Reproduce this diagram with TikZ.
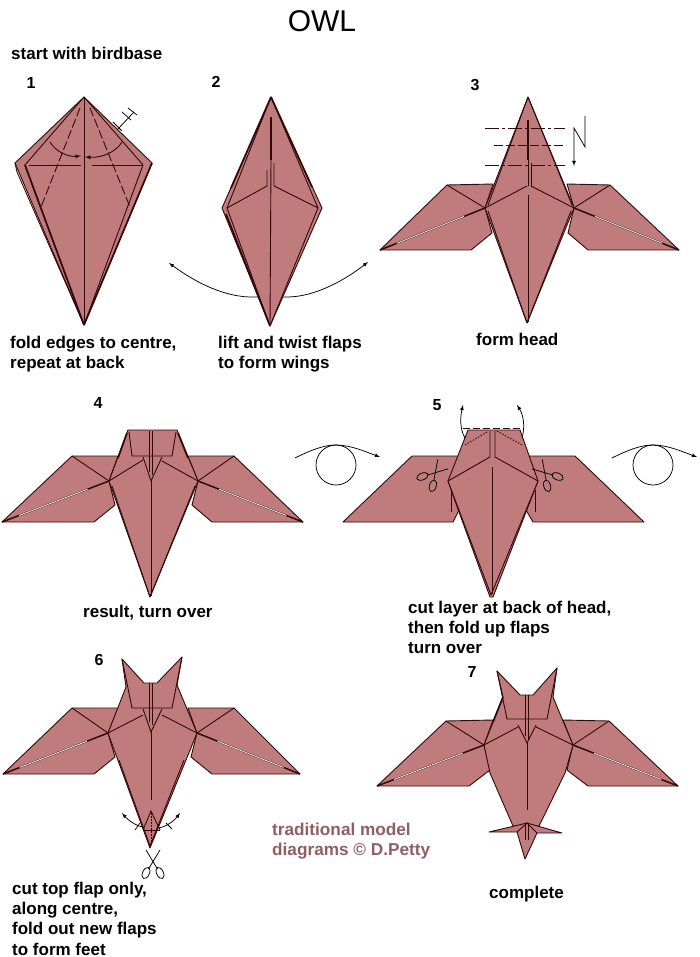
\documentclass[tikz,border=0pt]{standalone}
\usepackage{fontspec}
\setmainfont{Liberation Sans}
\usetikzlibrary{calc}
\definecolor{paperrose}{HTML}{C07C7C}
\definecolor{foldline}{HTML}{320808}
\definecolor{creditcol}{HTML}{8E5F63}
\tikzset{
  paper/.style={fill=paperrose, draw=foldline, line width=0.9pt, line join=round},
  crease/.style={draw=foldline, line width=0.9pt},
  heavy/.style={draw=foldline, line width=1.7pt},
  sliver/.style={draw=white, line width=0.8pt},
  valley/.style={crease, dash pattern=on 9pt off 3pt},
  chain/.style={crease, dash pattern=on 14pt off 3pt on 3pt off 3pt},
  hint/.style={draw=black, line width=0.75pt},
  label/.style={font=\fontsize{17}{20.4}\selectfont\bfseries, align=left, inner sep=0pt, anchor=north west},
  stepnum/.style={font=\fontsize{16}{18}\selectfont\bfseries, inner sep=0pt},
  scissors/.pic={
    \draw[hint] (-7,-12) -- (4.5,7);
    \draw[hint] (7,-12) -- (-4.5,7);
    \draw[hint, rotate around={25:(7,11)}] (7,11) ellipse (3.4 and 6);
    \draw[hint, rotate around={-25:(-7,11)}] (-7,11) ellipse (3.4 and 6);
  },
  turnover/.pic={
    \draw[hint] (0,0) circle (20);
    \draw[hint, -latex] (-41,-7) .. controls (-25,-15) and (-12,-20) .. (0,-20)
      .. controls (15,-20) and (30,-13) .. (44,-8);
  }
}
% wings of steps 3, 4, 6 and 7 share one layout
\newcommand{\drawwings}{
  \filldraw[paper] (WL) -- (TL) -- (HL) -- (SL) -- (IL) -- (BL) -- cycle;
  \filldraw[paper] (WR) -- (TR) -- (HR) -- (SR) -- (IR) -- (BR) -- cycle;
  \draw[draw=foldline, line width=1.5pt] (WL) -- (SL);
  \draw[draw=foldline, line width=1.5pt] (WR) -- (SR);
  \draw[sliver] ($(WL)!0.16!(SL)$) -- ($(WL)!0.8!(SL)$);
  \draw[sliver] ($(WR)!0.16!(SR)$) -- ($(WR)!0.8!(SR)$);
}
\begin{document}
\begin{tikzpicture}[x=1pt,y=-1pt]
  \useasboundingbox[fill=white] (0,0) rectangle (700,957);

  \node[inner sep=0pt, font=\fontsize{30}{32}\selectfont] (title) at (322,21) {OWL};
  \node[label] (start) at (11,46.5) {start with birdbase};

  % step 1
  \node[stepnum] (n1) at (31,83) {1};
  \coordinate (A1) at (84,97);
  \coordinate (L1) at (15,163);
  \coordinate (R1) at (152,163);
  \coordinate (B1) at (84,325);
  \filldraw[paper] (A1) -- (R1) -- (B1) -- (L1) -- cycle;
  \draw[crease] (A1) -- (25,165) -- (B1);
  \draw[heavy] (25,165) -- (B1);
  \draw[crease] (15,163) -- (17,172) -- (B1);
  \draw[crease] (A1) -- (143,165) -- (B1);
  \draw[heavy] (R1) -- (B1);
  \draw[crease] (A1) -- (B1);
  \draw[crease] (29,165) -- (81,165);
  \draw[crease] (92,165) -- (143,165);
  \draw[valley] (80,108) -- (41,207);
  \draw[valley] (90,108) -- (130,207);
  \draw[crease, -latex] (50,142) .. controls (56,152) and (68,157) .. (81,156);
  \draw[crease, -latex] (122,142) .. controls (116,152) and (102,158) .. (85,157);
  \draw[hint] (117,130) -- (134,112);
  \draw[hint] (113,122) -- (122,131);
  \draw[hint] (122,112) -- (131,120);
  \draw[hint] (128,108) -- (137,115);
  \node[label] (text1) at (10,335.5) {fold edges to centre,\\repeat at back};

  % step 2
  \node[stepnum] (n2) at (216,82) {2};
  \coordinate (A2) at (271,97);
  \coordinate (L2) at (222,208);
  \coordinate (R2) at (322,208);
  \coordinate (B2) at (270,326);
  \draw[hint, latex-latex] (169,263) .. controls (195,282) and (225,298) .. (255,297)
    -- (287,297) .. controls (315,297) and (345,280) .. (368,262);
  \filldraw[paper] (A2) -- (R2) -- (B2) -- (L2) -- cycle;
  \draw[crease] (A2) -- (227,208) -- (B2);
  \draw[crease] (A2) -- (318,208) -- (B2);
  \draw[heavy] (226,214) -- (B2);
  \draw[heavy] (A2) -- (231,188);
  \draw[heavy] (A2) -- (312,187);
  \draw[crease] (227,208) -- (267,186) -- (267,170);
  \draw[crease] (318,208) -- (274,186) -- (274,163);
  \draw[heavy] (271,117) -- (271,160);
  \draw[crease] (271,160) -- (B2);

  \node[label] (text2) at (218,335.5) {lift and twist flaps\\to form wings};

  % step 3
  \node[stepnum] (n3) at (475,85) {3};
  \coordinate (WL) at (380,250);
  \coordinate (WR) at (679,250);
  \coordinate (TL) at (447,185);
  \coordinate (TR) at (610,185);
  \coordinate (BL) at (471,250);
  \coordinate (BR) at (588,250);
  \coordinate (IL) at (492,233);
  \coordinate (IR) at (568,233);
  \coordinate (HL) at (493,184);
  \coordinate (HR) at (567,184);
  \coordinate (SL) at (485,208);
  \coordinate (SR) at (574,208);
  \drawwings
  \filldraw[paper] (528,97) -- (SR) -- (527,323) -- (SL) -- cycle;
  \draw[crease] (528,97) -- (488,205);
  \draw[crease] (528,97) -- (572,205);
  \draw[crease] (488,211) -- (527,323);
  \draw[crease] (571,211) -- (527,323);
  \draw[crease] (TL) -- (SL) -- (527,186);
  \draw[crease] (TR) -- (SR) -- (531,186);
  \draw[heavy] (528,120) -- (528,160);
  \draw[crease] (528,160) -- (528,186);
  \draw[crease] (531,163) -- (531,186);
  \draw[crease] (528,195) -- (528,322);
  \draw[chain] (485,128) -- (565,128);
  \draw[valley] (494,145) -- (566,145);
  \draw[chain] (485,165) -- (565,165);
  \draw[hint, -latex] (585,116) -- (585,147) -- (574,128) -- (574,166);
  \node[label] (text3) at (476,332.5) {form head};

  % turning arrows
  \path (336,465) pic {turnover};
  \path (653,465) pic {turnover};

  % step 4
  \node[stepnum] (n4) at (98,403) {4};
  \coordinate (WL) at (2,522);
  \coordinate (WR) at (303,522);
  \coordinate (TL) at (72,456);
  \coordinate (TR) at (234,456);
  \coordinate (BL) at (94,522);
  \coordinate (BR) at (212,522);
  \coordinate (IL) at (115,505);
  \coordinate (IR) at (192,505);
  \coordinate (HL) at (118,456);
  \coordinate (HR) at (188,456);
  \coordinate (SL) at (109,481);
  \coordinate (SR) at (198,481);
  \drawwings
  \filldraw[paper] (128,430) -- (177,430) -- (SR) -- (150,597) -- (SL) -- cycle;
  \draw[crease] (112,486) -- (150,597);
  \draw[crease] (195,486) -- (150,597);
  \draw[heavy] (127,433) -- (118,458);
  \draw[heavy] (178,433) -- (188,458);
  \draw[crease] (TL) -- (SL) -- (143,460);
  \draw[crease] (TR) -- (SR) -- (162,461);
  \draw[crease] (129,432) -- (132,456) -- (172,456) -- (176,432);
  \draw[crease] (143,457) -- (151,481) -- (162,457);
  \draw[crease] (149.5,431) -- (149.5,472);
  \draw[crease] (152.5,431) -- (152.5,475);
  \draw[crease] (151,481) -- (151,596);
  \node[label] (text4) at (83,604.5) {result, turn over};

  % step 5
  \node[stepnum] (n5) at (437,405) {5};
  \filldraw[paper] (459,510) -- (453,522) -- (343,522) -- (412,456) -- (575,456) -- (644,522)
    -- (533,522) -- (526,510) -- cycle;
  \filldraw[paper] (448,481) -- (459,512) -- (490,597) -- (493,597) -- (526,512) -- (538,481) -- cycle;
  \filldraw[paper] (468,430) -- (520,430) -- (538,481) -- (491,595) -- (448,481) -- cycle;
  \draw[crease] (451,490) -- (451,512);
  \draw[crease] (535,490) -- (535,512);
  \draw[crease] (448,481) -- (490,457) -- (490,431);
  \draw[crease] (538,481) -- (495,457) -- (495,431);
  \draw[crease] (492,467) -- (492,594);
  \draw[crease, dash pattern=on 7pt off 3pt] (463,428) -- (522,428);
  \draw[crease, dash pattern=on 1.5pt off 1.5pt] (465,445) -- (487,432);
  \draw[crease, dash pattern=on 1.5pt off 1.5pt] (497,431) -- (522,445);
  \draw[hint, -latex] (465,438) .. controls (460,430) and (460,418) .. (463,405);
  \draw[hint, -latex] (522,438) .. controls (525,428) and (524,416) .. (517,405);
  \path (435,473) pic[rotate=-42] {scissors};
  \path (545,473) pic[rotate=42] {scissors};
  \node[label] (text5) at (408,600.5) {cut layer at back of head,\\then fold up flaps\\turn over};

  % step 6
  \node[stepnum] (n6) at (99,660) {6};
  \coordinate (WL) at (3,774);
  \coordinate (WR) at (300,774);
  \coordinate (TL) at (72,708);
  \coordinate (TR) at (234,708);
  \coordinate (BL) at (94,774);
  \coordinate (BR) at (212,774);
  \coordinate (IL) at (115,757);
  \coordinate (IR) at (191,757);
  \coordinate (HL) at (118,708);
  \coordinate (HR) at (188,708);
  \coordinate (SL) at (108,733);
  \coordinate (SR) at (197,733);
  \drawwings
  \filldraw[paper] (122,659) -- (144,683) -- (157,683) -- (182,657) -- (177,685) -- (SR) -- (150,848)
    -- (SL) -- (126,687) -- cycle;
  \draw[crease] (122,659) -- (132,708) -- (172,708) -- (182,657);
  \draw[crease] (TL) -- (SL) -- (143,715);
  \draw[crease] (TR) -- (SR) -- (162,715);
  \draw[crease] (143,709) -- (151,732) -- (162,709);
  \draw[crease] (149.5,683) -- (149.5,722);
  \draw[crease] (152.5,683) -- (152.5,725);
  \draw[crease] (151,732) -- (151,800);
  \draw[crease] (143,830) -- (160,830);
  \draw[crease] (143,830) -- (151,811) -- (160,830);
  \draw[crease] (119,760) -- (150,846) -- (184,760);
  \draw[crease, dash pattern=on 1.5pt off 1.5pt] (151,813) -- (151,846);
  \draw[hint, -latex] (143,827) .. controls (136,826) and (128,820) .. (122,813);
  \draw[hint, -latex] (158,828) .. controls (166,827) and (174,821) .. (180,813);
  \draw[hint] (135,830) -- (140,823);
  \draw[hint] (166,823) -- (172,829);
  \path (153,862) pic {scissors};
  \node[label] (text6) at (12,881.5) {cut top flap only,\\along centre,\\fold out new flaps\\to form feet};

  % step 7
  \node[stepnum] (n7) at (472,672) {7};
  \coordinate (WL) at (377,786);
  \coordinate (WR) at (678,786);
  \coordinate (TL) at (446,721);
  \coordinate (TR) at (609,721);
  \coordinate (BL) at (469,786);
  \coordinate (BR) at (588,786);
  \coordinate (IL) at (490,770);
  \coordinate (IR) at (567,770);
  \coordinate (HL) at (493,720);
  \coordinate (HR) at (563,720);
  \coordinate (SL) at (484,745);
  \coordinate (SR) at (573,745);
  \drawwings
  \filldraw[paper] (497,671) -- (520,695) -- (533,695) -- (557,668) -- (553,697) -- (SR) -- (565,773)
    -- (539,826) -- (513,826) -- (490,773) -- (SL) -- (503,697) -- cycle;
  \filldraw[paper] (527,823) -- (562,833) -- (537,833) -- (525,859) -- (517,832) -- (489,832) -- cycle;
  \draw[heavy] (503,697) -- (493,722);
  \draw[crease] (497,671) -- (507,719) -- (547,719) -- (557,668);
  \draw[crease] (TL) -- (SL) -- (518,727);
  \draw[crease] (TR) -- (SR) -- (536,727);
  \draw[crease] (518,725) -- (527,743) -- (536,725);
  \draw[crease] (525.5,695) -- (525.5,736);
  \draw[crease] (528,695) -- (528,740);
  \draw[crease] (527,743) -- (527,810);
  \draw[crease] (525,823) -- (525,840);
  \draw[crease] (528,823) -- (528,840);
  \draw[crease] (517,832) -- (527,823) -- (537,833);
  \node[label] (text7) at (489,885.5) {complete};

  \node[label, text=creditcol, font=\fontsize{17.2}{20.6}\selectfont\bfseries] (credit) at (272,822.5)
    {traditional model\\diagrams © D.Petty};
\end{tikzpicture}
\end{document}
